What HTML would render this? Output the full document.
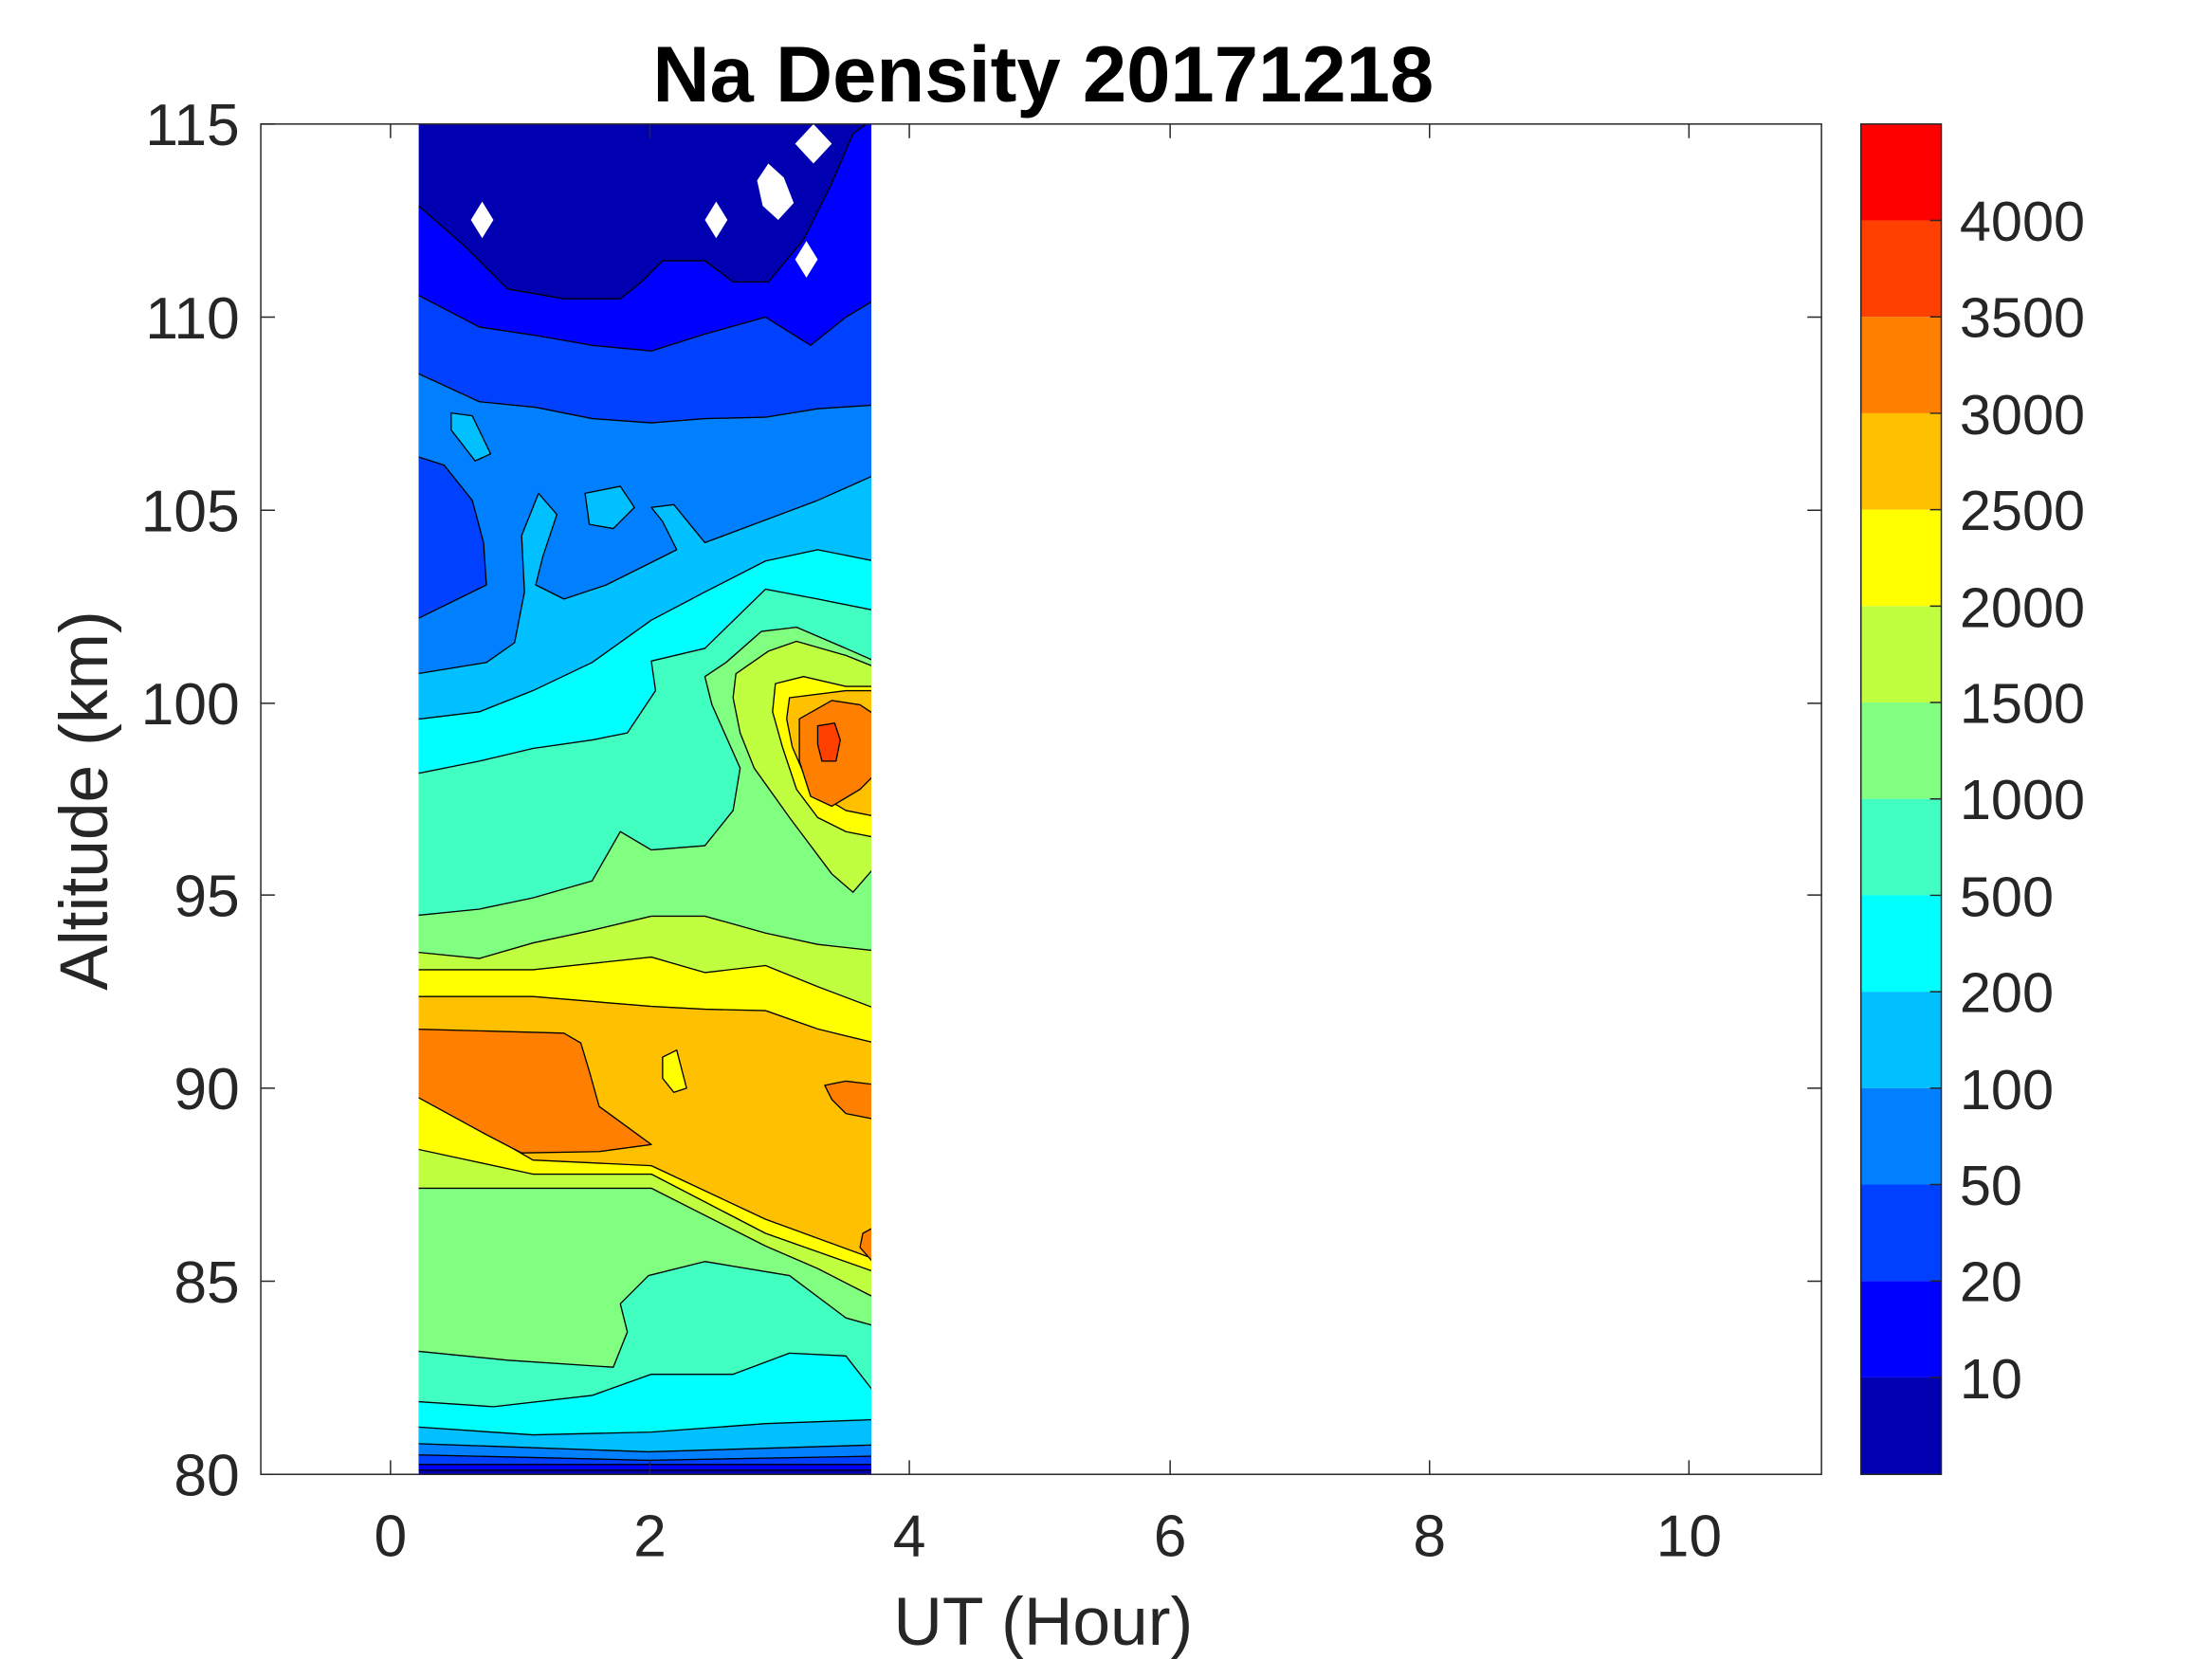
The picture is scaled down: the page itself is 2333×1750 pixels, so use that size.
<!DOCTYPE html>
<html><head><meta charset="utf-8"><style>html,body{margin:0;padding:0;background:#fff}svg{display:block}</style></head><body>
<svg width="2333" height="1750" viewBox="0 0 1569 1177" preserveAspectRatio="none" xmlns="http://www.w3.org/2000/svg" font-family="Liberation Sans, sans-serif">
<defs><clipPath id="c"><rect x="297" y="88" width="321" height="958"/></clipPath></defs>
<g clip-path="url(#c)" stroke="#000" stroke-width="0.9" stroke-linejoin="round">
<rect x="290" y="80" width="340" height="980" fill="#0000b0" stroke="none"/>
<polygon fill="#0000ff" points="290,140 330,175 360,205 400,212 440,212 455,200 470,185 500,185 520,200 545,200 570,170 590,130 605,95 625,80 625,1043 290,1043"/>
<polygon fill="#0040ff" points="290,206 340,232 380,238 420,245 462,249 500,237 543,225 575,245 600,225 625,210 625,1039 290,1039"/>
<polygon fill="#0080ff" points="290,262 340,285 380,289 420,297 462,300 500,297 543,296 580,290 625,287 625,1033 460,1036 290,1032"/>
<polygon fill="#0040ff" points="290,322 315,330 335,355 343,385 345,415 290,442"/>
<polygon fill="#00c0ff" points="290,479 345,470 365,456 372,420 370,380 382,350 395,365 385,395 380,415 400,425 430,415 460,400 480,390 470,370 462,360 478,358 500,385 540,370 580,355 625,335 625,1025 460,1030 290,1024"/>
<polygon fill="#00c0ff" points="320,293 335,295 348,322 337,327 320,305"/>
<polygon fill="#00c0ff" points="415,350 440,345 450,360 435,375 418,372"/>
<polygon fill="#00ffff" points="290,511 340,505 378,490 420,470 462,440 500,420 543,398 580,390 625,399 625,1007 543,1010 462,1016 378,1018 290,1012"/>
<polygon fill="#40ffc0" points="290,550 340,540 378,531 420,525 445,520 465,490 462,469 500,460 543,418 580,425 625,434 625,994 600,962 560,960 520,975 462,975 420,990 350,998 290,994"/>
<polygon fill="#80ff80" points="290,650 340,645 378,637 420,625 440,590 462,603 500,600 520,575 525,545 505,500 500,480 515,470 540,448 565,445 600,460 625,471 625,942 600,935 560,905 500,895 460,905 440,925 445,945 435,970 360,965 290,958"/>
<polygon fill="#c0ff40" points="290,675 340,680 378,669 420,660 462,650 500,650 543,662 580,670 625,675 625,923 580,900 543,884 462,843 378,843 290,843"/>
<polygon fill="#c0ff40" points="522,478 545,462 565,455 600,465 625,475 625,610 605,633 590,620 560,580 535,545 525,520 520,495"/>
<polygon fill="#ffff00" points="290,688 378,688 462,679 500,690 543,685 580,700 625,717 625,904 543,875 462,833 378,833 290,814"/>
<polygon fill="#ffff00" points="550,485 570,480 600,487 625,487 625,595 600,590 580,580 565,560 555,530 548,505"/>
<polygon fill="#ffc000" points="290,707 378,707 462,714 500,716 543,717 580,730 625,741 625,895 543,865 462,827 378,823 290,772"/>
<polygon fill="#ffc000" points="560,495 600,490 625,490 625,580 600,575 575,560 562,530 558,510"/>
<polygon fill="#ffff00" points="470,750 480,745 487,772 478,775 470,765"/>
<polygon fill="#ff8000" points="290,730 400,733 412,740 418,760 425,785 462,812 425,817 370,818 345,805 290,775"/>
<polygon fill="#ff8000" points="585,770 600,767 625,770 625,795 600,790 590,780"/>
<polygon fill="#ff8000" points="612,875 625,868 625,902 610,885"/>
<polygon fill="#ff8000" points="567,510 590,497 610,500 625,510 625,545 610,560 590,572 575,565 567,540"/>
<polygon fill="#ff4000" points="580,515 592,513 596,525 593,540 583,540 580,528"/>
</g>
<g fill="#fff">
<polygon points="342,143 350,156 342,169 334,156"/>
<polygon points="508,143 516,156 508,169 500,156"/>
<polygon points="545,116 556,126 563,144 552,156 541,146 537,128"/>
<polygon points="577,88 590,102 577,116 564,102"/>
<polygon points="572,171 580,184 572,197 564,184"/>
</g>
<g stroke="#262626" stroke-width="1" fill="none">
<rect x="185" y="88" width="1107" height="958"/>
<path d="M277,1046v-10M461,1046v-10M645,1046v-10M830,1046v-10M1014,1046v-10M1198,1046v-10M277,88v10M461,88v10M645,88v10M830,88v10M1014,88v10M1198,88v10"/>
<path d="M185,1046h10M185,909h10M185,772h10M185,635h10M185,499h10M185,362h10M185,225h10M185,88h10M1292,909h-10M1292,772h-10M1292,635h-10M1292,499h-10M1292,362h-10M1292,225h-10"/>
</g>
<g stroke="none">
<rect x="1320" y="88" width="57" height="68.4" fill="#ff0000"/>
<rect x="1320" y="156.4" width="57" height="68.4" fill="#ff4000"/>
<rect x="1320" y="224.8" width="57" height="68.4" fill="#ff8000"/>
<rect x="1320" y="293.2" width="57" height="68.4" fill="#ffc000"/>
<rect x="1320" y="361.6" width="57" height="68.4" fill="#ffff00"/>
<rect x="1320" y="430" width="57" height="68.4" fill="#c0ff40"/>
<rect x="1320" y="498.4" width="57" height="68.4" fill="#80ff80"/>
<rect x="1320" y="566.8" width="57" height="68.4" fill="#40ffc0"/>
<rect x="1320" y="635.2" width="57" height="68.4" fill="#00ffff"/>
<rect x="1320" y="703.6" width="57" height="68.4" fill="#00c0ff"/>
<rect x="1320" y="772" width="57" height="68.4" fill="#0080ff"/>
<rect x="1320" y="840.4" width="57" height="68.4" fill="#0040ff"/>
<rect x="1320" y="908.8" width="57" height="68.4" fill="#0000ff"/>
<rect x="1320" y="977.2" width="57" height="68.8" fill="#0000b0"/>
</g>
<rect x="1320" y="88" width="57" height="958" fill="none" stroke="#262626" stroke-width="1"/>
<g stroke="#262626" stroke-width="1"><path d="M1377,156.4h-8M1377,224.8h-8M1377,293.2h-8M1377,361.6h-8M1377,430h-8M1377,498.4h-8M1377,566.8h-8M1377,635.2h-8M1377,703.6h-8M1377,772h-8M1377,840.4h-8M1377,908.8h-8M1377,977.2h-8"/></g>
<g fill="#262626" font-size="42">
<g text-anchor="start" font-size="40">
<text x="1390" y="171">4000</text><text x="1390" y="239">3500</text><text x="1390" y="308">3000</text><text x="1390" y="376">2500</text><text x="1390" y="445">2000</text><text x="1390" y="513">1500</text><text x="1390" y="581">1000</text><text x="1390" y="650">500</text><text x="1390" y="718">200</text><text x="1390" y="787">100</text><text x="1390" y="855">50</text><text x="1390" y="923">20</text><text x="1390" y="992">10</text>
</g>
<g text-anchor="middle">
<text x="277" y="1104">0</text><text x="461" y="1104">2</text><text x="645" y="1104">4</text><text x="830" y="1104">6</text><text x="1014" y="1104">8</text><text x="1198" y="1104">10</text>
</g>
<g text-anchor="end">
<text x="170" y="1061">80</text><text x="170" y="924">85</text><text x="170" y="787">90</text><text x="170" y="650">95</text><text x="170" y="514">100</text><text x="170" y="377">105</text><text x="170" y="240">110</text><text x="170" y="103">115</text>
</g>
<text x="740" y="1167" text-anchor="middle" font-size="48">UT (Hour)</text>
<text transform="translate(76,568) rotate(-90)" text-anchor="middle" font-size="48">Altitude (km)</text>
</g>
<text x="740" y="72" text-anchor="middle" font-size="56" font-weight="bold" fill="#000">Na Density 20171218</text>
</svg>
</body></html>
